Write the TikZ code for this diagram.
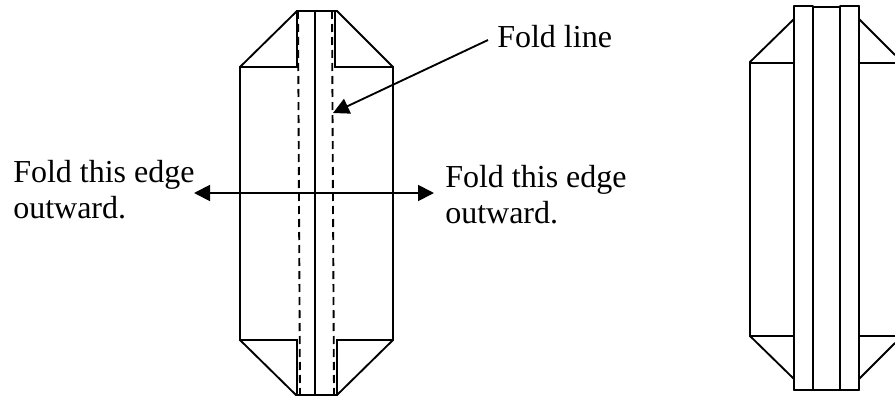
\documentclass[tikz,border=0pt]{standalone}
\usepackage{fontspec}
\setmainfont{Liberation Serif}
\usetikzlibrary{arrows.meta}
\tikzset{
    paper/.style={line width=1.4pt,line cap=round,line join=miter},
    foldline/.style={line width=1.4pt,dash pattern=on 6pt off 3.75pt},
    pointer/.style={line width=1.4pt,-{Triangle[length=12pt,width=12pt]}},
    label/.style={inner sep=0pt,align=left,font=\fontsize{24}{27}\selectfont}
}

\begin{document}
\begin{tikzpicture}[x=0.75pt,y=-0.75pt]
        \useasboundingbox (0,0) rectangle (895,396);

        % folded sheet with fold lines
        \draw[paper] (297,11) -- (337,11) -- (393,67) -- (393,340) -- (337,395)
            -- (296,395) -- (240,340) -- (240,67) -- cycle;
        \draw[paper] (240,67) -- (297,67) -- (297,11);
        \draw[paper] (393,67) -- (335,67) -- (335,11);
        \draw[paper] (240,340) -- (297,340) -- (297,395);
        \draw[paper] (393,340) -- (337,340) -- (337,395);
        \draw[paper] (315,11) -- (315,395);
        \draw[foldline] (298,11) -- (300,395);
        \draw[foldline] (332,11) -- (334,395);

        % finished sheet, cut off by the page
        \draw[paper] (794,19) -- (750,62) -- (750,336) -- (794,379);
        \draw[paper] (859,19) -- (895,55);
        \draw[paper] (859,379) -- (895,343);
        \draw[paper] (750,63) -- (794,63);
        \draw[paper] (859,63) -- (895,63);
        \draw[paper] (750,336) -- (794,336);
        \draw[paper] (859,336) -- (895,336);
        \foreach \x/\ytop/\ybot in {794/6/390, 813/7/390, 840/7/390, 859/6/390}{
                \draw[paper] (\x,\ytop) -- (\x,\ybot);
            }
        \draw[paper] (794,6) -- (813,6);
        \draw[paper] (813,7) -- (840,7);
        \draw[paper] (840,6) -- (859,6);
        \draw[paper] (794,390) -- (859,390);

        % labels
        \node[label,anchor=base west] (foldlab) at (497,47) {Fold line};
        \node[label,anchor=base west] (leftlab) at (13,218) {Fold this edge\\outward.};
        \node[label,anchor=base west] (rightlab) at (445,223) {Fold this edge\\outward.};

        % arrows
        \coordinate (foldtail) at (488,40);
        \coordinate (foldtip) at (333,113);
        \coordinate (lefttip) at (194,193);
        \coordinate (righttip) at (434,193);
        \draw[pointer] (foldtail) -- (foldtip);
        \draw[pointer,{Triangle[length=12pt,width=12pt]}-{Triangle[length=12pt,width=12pt]}] (lefttip) -- (righttip);
    \end{tikzpicture}
\end{document}
